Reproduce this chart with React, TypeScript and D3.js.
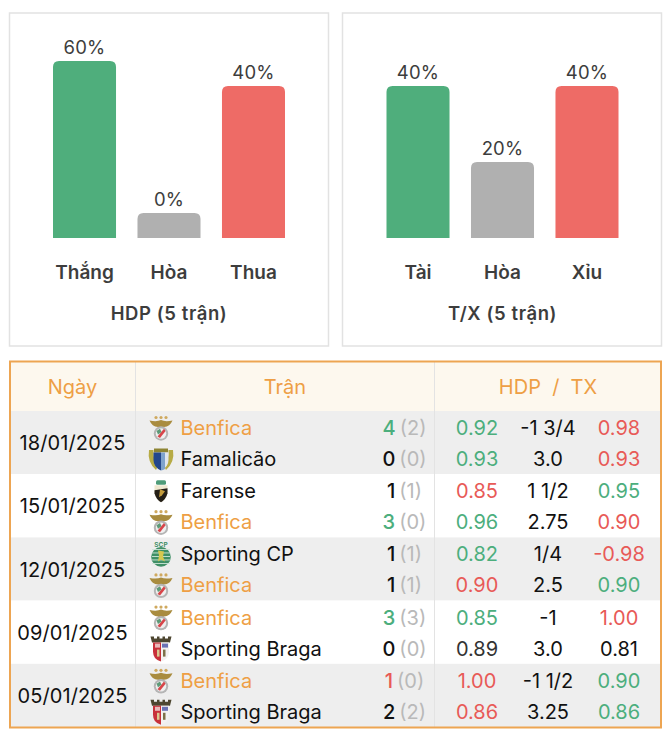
import * as d3 from 'd3';
import React from 'react';

const FONT = 'Inter, "Noto Sans", sans-serif';
const GREEN = '#4fae7c';
const RED = '#ee6b66';
const GREY = '#b0b0b0';
const TEXT_GREEN = '#4cae7d';
const TEXT_RED = '#e85a57';
const ORANGE = '#ee9f45';

// bar panels
const hdpLabels = ['Thắng', 'Hòa', 'Thua'];
const hdpValues = [60, 0, 40];
const txLabels = ['Tài', 'Hòa', 'Xỉu'];
const txValues = [40, 20, 40];
const barColors = [GREEN, GREY, RED];

// table columns, two lines per match
const matchDates = ['18/01/2025', '15/01/2025', '12/01/2025', '09/01/2025', '05/01/2025'];
const teams = [
  'Benfica', 'Famalicão',
  'Farense', 'Benfica',
  'Sporting CP', 'Benfica',
  'Benfica', 'Sporting Braga',
  'Benfica', 'Sporting Braga',
];
const goals = [4, 0, 1, 3, 1, 1, 3, 0, 1, 2];
const halfGoals = [2, 0, 1, 0, 1, 1, 3, 0, 0, 2];
const goalTones = ['g', 'k', 'k', 'g', 'k', 'k', 'g', 'k', 'r', 'k'];
const leftOdds = ['0.92', '0.93', '0.85', '0.96', '0.82', '0.90', '0.85', '0.89', '1.00', '0.86'];
const leftTones = ['g', 'g', 'r', 'g', 'g', 'r', 'g', 'd', 'r', 'r'];
const lines = ['-1 3/4', '3.0', '1 1/2', '2.75', '1/4', '2.5', '-1', '3.0', '-1 1/2', '3.25'];
const rightOdds = ['0.98', '0.93', '0.95', '0.90', '-0.98', '0.90', '1.00', '0.81', '0.90', '0.86'];
const rightTones = ['r', 'r', 'g', 'r', 'r', 'g', 'r', 'k', 'g', 'g'];

const toneColor: Record<string, string> = { g: TEXT_GREEN, r: TEXT_RED, k: '#111', d: '#333' };

// 3.8px per percent, with the min and max height the widget applies
const barHeight = d3.scaleLinear().domain([25 / 3.8, 177 / 3.8]).range([25, 177]).clamp(true);

function topRounded(x: number, y: number, w: number, h: number, r: number) {
  const p = d3.path();
  p.moveTo(x, y + h);
  p.lineTo(x, y + r);
  p.quadraticCurveTo(x, y, x + r, y);
  p.lineTo(x + w - r, y);
  p.quadraticCurveTo(x + w, y, x + w, y + r);
  p.lineTo(x + w, y + h);
  p.closePath();
  return p.toString();
}

function BarPanel({ left, barLeft, labels, values, title }: {
  left: number; barLeft: number; labels: string[]; values: number[]; title: string;
}) {
  const baseY = 238;
  const x = d3.scaleBand().domain(labels).range([barLeft, barLeft + 232]).paddingInner(0.254).paddingOuter(0);
  const center = barLeft + 116;
  return (
    <g fontFamily={FONT}>
      <rect x={left} y={13} width={319} height={333} fill="#fff" stroke="#e2e2e2" strokeWidth={1.5} />
      {labels.map((label, i) => {
        const h = barHeight(values[i]);
        const bx = x(label) as number;
        const cx = bx + x.bandwidth() / 2;
        return (
          <g key={label}>
            <path d={topRounded(bx, baseY - h, x.bandwidth(), h, 6)} fill={barColors[i]} />
            <text x={cx} y={baseY - h - 7} textAnchor="middle" fontSize={18.5} letterSpacing={0.2} fill="#3d3d3d">{values[i]}%</text>
            <text x={cx} y={279} textAnchor="middle" fontSize={19} fontWeight={600} fill="#3d3d3d">{label}</text>
          </g>
        );
      })}
      <text x={center} y={320} textAnchor="middle" fontSize={18.5} fontWeight={600} letterSpacing={0.6} fill="#3d3d3d">{title}</text>
    </g>
  );
}

function Benfica() {
  return (
    <g>
      {[-5, 0, 5].map(d => <circle key={d} cx={d} cy={-10.5} r={1.6} fill="#cfa95f" />)}
      <path d="M-11.5,-7.5 Q-4,-6 0,-8 Q4,-6 11.5,-7.5 Q9,-1.5 3,-1 L0,2 L-3,-1 Q-9,-1.5 -11.5,-7.5Z" fill="#a98c3f" />
      <circle cy={5.5} r={7.2} fill="#b5b5b5" />
      <circle cy={5.5} r={5.2} fill="#efefef" />
      <path d="M-3.5,8.5 L3,0.8 L4.6,3 L-1,10Z" fill="#d8454a" />
      <path d="M-4.5,3 L-1,0.8 L0.5,4 L-3,6.5Z" fill="#5d9a78" />
    </g>
  );
}

function Famalicao() {
  return (
    <g>
      <path d="M-12,-9 Q-14,3 -5,11 L-3,7 Q-8,2 -7.5,-9Z" fill="#b7ab45" />
      <path d="M12,-9 Q14,3 5,11 L3,7 Q8,2 7.5,-9Z" fill="#b7ab45" />
      <rect x={-7} y={-10.5} width={14} height={4} fill="#8d8433" />
      <path d="M-7.5,-6.5 H0 V11.5 Q-7.5,8 -7.5,1Z" fill="#23478c" />
      <path d="M7.5,-6.5 H0 V11.5 Q7.5,8 7.5,1Z" fill="#dfe6ef" />
      <path d="M0,-6.5 H4 V10 Q2,11 0,11.5Z" fill="#7ea3cc" />
    </g>
  );
}

function Farense() {
  return (
    <g>
      <rect x={-5} y={-11} width={10} height={4.5} rx={1.5} fill="#4f9c79" />
      <path d="M-6.5,-6 H6.5 V2 Q5,8 0,11 Q-5,8 -6.5,2Z" fill="#efe8cf" />
      <path d="M-6.5,-1 L6.5,-3 V2 Q5,8 0,11 Q-5,8 -6.5,2Z" fill="#241f17" />
      <path d="M-1,-2 L4,0 L1,4 L-2,6Z" fill="#c39c3c" />
    </g>
  );
}

function SportingCP() {
  return (
    <g>
      <text y={-7.5} textAnchor="middle" fontSize={6.5} fontWeight={700} fill="#3f8f66" fontFamily={FONT}>SCP</text>
      <circle cy={2.5} r={9.8} fill="#3f8f66" />
      {[-5, -1.5, 2, 5.5, 9].map(d => <rect key={d} x={-9} y={d - 0.4} width={18} height={0.9} fill="#cfe5d8" />)}
      <path d="M-3,-4 L3,-3 L2,2 L4,7 L0,5 L-3,7 L-2,1Z" fill="#d6c84f" />
    </g>
  );
}

function Braga() {
  return (
    <g>
      <path d="M-10.5,-12 H-7 V-10 H-4 V-12 H-1.5 V-10 H1.5 V-12 H4 V-10 H7 V-12 H10.5 L9,-6 H-9Z" fill="#4d4630" />
      <path d="M-8,-6 H0 V13 Q-8,11 -8,3Z" fill="#c8303a" />
      <path d="M8,-6 H0 V13 Q8,11 8,3Z" fill="#f3f1f1" />
      <rect x={1} y={-5} width={6} height={4} fill="#6a72b5" />
      <rect x={-6} y={-5} width={5} height={4} fill="#e9b8b8" />
      <rect x={-4} y={1} width={2.5} height={7} fill="#d9c88f" />
      <rect x={2} y={1} width={2.5} height={7} fill="#7d7048" />
    </g>
  );
}

const crests: Record<string, () => React.ReactElement> = {
  Benfica,
  'Famalicão': Famalicao,
  Farense,
  'Sporting CP': SportingCP,
  'Sporting Braga': Braga,
};

function MatchTable() {
  const tableTop = 411;
  const rowEdge = d3.scaleLinear().domain([0, matchDates.length]).range([tableTop, 727]);
  const textY = (i: number) => {
    const match = Math.floor(i / 2);
    return rowEdge(match) + (i % 2 === 0 ? 24 : 55);
  };
  return (
    <g fontFamily={FONT} fontSize={20}>
      <rect x={10} y={362} width={651} height={49} fill="#fdf8ee" />
      {matchDates.map((date, m) => (
        <g key={date}>
          <rect x={10} y={rowEdge(m)} width={651} height={rowEdge(m + 1) - rowEdge(m)} fill={m % 2 === 0 ? '#eeeeee' : '#fff'} />
          <text x={72.5} y={(rowEdge(m) + rowEdge(m + 1)) / 2 + 7.5} textAnchor="middle" letterSpacing={0.1} fill="#111">{date}</text>
        </g>
      ))}
      {[135.5, 434.5].map(sx => (
        <line key={sx} x1={sx} x2={sx} y1={362} y2={727} stroke="#e3e3e3" strokeWidth={1} />
      ))}
      <text x={72.5} y={394} textAnchor="middle" fill={ORANGE}>Ngày</text>
      <text x={285} y={394} textAnchor="middle" fill={ORANGE}>Trận</text>
      <text x={548} y={394} textAnchor="middle" fill={ORANGE} xmlSpace="preserve">HDP  /  TX</text>
      {teams.map((team, i) => {
        const Crest = crests[team];
        const y = textY(i);
        return (
          <g key={i}>
            <g transform={`translate(161,${y - 7})`}><Crest /></g>
            <text x={180.5} y={y} fill={team === 'Benfica' ? ORANGE : '#111'}>{team}</text>
            <text x={404.5} y={y} textAnchor="middle">
              <tspan fill={toneColor[goalTones[i]]} fontWeight={500}>{goals[i]}</tspan>
              <tspan fill="#b9b9b9" dx={4}>({halfGoals[i]})</tspan>
            </text>
            <text x={477} y={y} textAnchor="middle" fill={toneColor[leftTones[i]]}>{leftOdds[i]}</text>
            <text x={548} y={y} textAnchor="middle" fill="#111">{lines[i]}</text>
            <text x={619} y={y} textAnchor="middle" fill={toneColor[rightTones[i]]}>{rightOdds[i]}</text>
          </g>
        );
      })}
      <rect x={10} y={361.5} width={651} height={366} fill="none" stroke="#eda552" strokeWidth={2} />
    </g>
  );
}

export default function App() {
  return (
    <svg width={672} height={738} style={{ position: 'absolute', left: 0, top: 0 }}>
      <rect width={672} height={738} fill="#fff" />
      <BarPanel left={9.5} barLeft={53} labels={hdpLabels} values={hdpValues} title="HDP (5 trận)" />
      <BarPanel left={342.5} barLeft={386.5} labels={txLabels} values={txValues} title="T/X (5 trận)" />
      <MatchTable />
    </svg>
  );
}
